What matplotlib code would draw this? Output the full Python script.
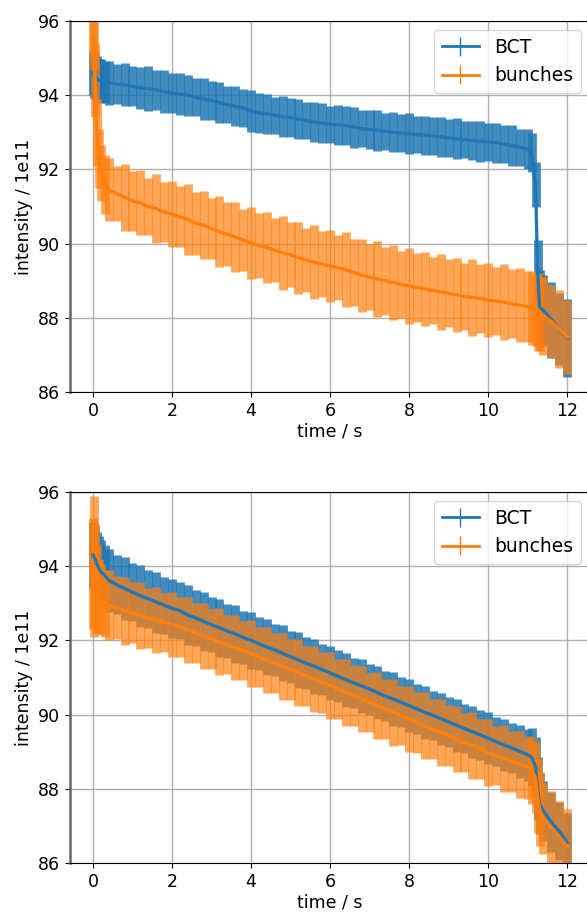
import matplotlib.pyplot as plt

#values (intensity in units of 1e11)
time = [0.0, 0.02, 0.05, 0.1, 0.15, 0.2, 0.3,
        0.4, 0.6, 0.8, 1.0, 1.2, 1.4, 1.6, 1.8, 2.0, 2.2,
        2.4, 2.6, 2.8, 3.0, 3.2, 3.4, 3.6, 3.8, 4.0, 4.2,
        4.4, 4.6, 4.8, 5.0, 5.2, 5.4, 5.6, 5.8, 6.0, 6.2,
        6.4, 6.6, 6.8, 7.0, 7.2, 7.4, 7.6, 7.8, 8.0, 8.2,
        8.4, 8.6, 8.8, 9.0, 9.2, 9.4, 9.6, 9.8, 10.0, 10.2,
        10.4, 10.6, 10.8, 11.0,
        11.1, 11.2, 11.25, 11.3, 11.4, 11.6, 11.8, 12.0]

#top panel
bct_top = [94.6, 94.55, 94.5, 94.45, 94.4, 94.38, 94.35,
           94.33, 94.3, 94.28, 94.24, 94.2, 94.18, 94.14, 94.1, 94.06, 94.03,
           94.0, 93.95, 93.9, 93.86, 93.8, 93.75, 93.7, 93.66, 93.58, 93.52,
           93.5, 93.46, 93.42, 93.4, 93.35, 93.32, 93.28, 93.25, 93.22, 93.2,
           93.18, 93.14, 93.1, 93.08, 93.05, 93.02, 93.0, 92.98, 92.96, 92.94,
           92.92, 92.9, 92.88, 92.85, 92.83, 92.8, 92.78, 92.76, 92.74, 92.72,
           92.68, 92.64, 92.6, 92.55,
           92.45, 91.6, 89.3, 88.3, 88.2, 87.95, 87.7, 87.45]
bct_top_err = [0.6, 0.62, 0.6, 0.62, 0.58, 0.6, 0.57,
               0.6, 0.55, 0.58, 0.54, 0.57, 0.6, 0.55, 0.58, 0.55, 0.57,
               0.55, 0.52, 0.56, 0.53, 0.55, 0.5, 0.54, 0.52, 0.56, 0.53,
               0.54, 0.5, 0.55, 0.52, 0.54, 0.5, 0.53, 0.55, 0.5, 0.53,
               0.52, 0.55, 0.5, 0.53, 0.55, 0.51, 0.54, 0.52, 0.55, 0.51,
               0.53, 0.5, 0.54, 0.52, 0.55, 0.5, 0.53, 0.55, 0.51, 0.54,
               0.52, 0.55, 0.5, 0.53,
               0.52, 0.6, 0.8, 1.0, 0.95, 1.02, 0.98, 1.05]
bunch_top = [95.6, 95.5, 94.4, 93.0, 92.3, 91.9, 91.6,
             91.45, 91.35, 91.25, 91.15, 91.1, 91.0, 90.95, 90.85, 90.8, 90.72,
             90.65, 90.55, 90.5, 90.4, 90.32, 90.25, 90.18, 90.1, 90.02, 89.95,
             89.9, 89.82, 89.75, 89.7, 89.62, 89.55, 89.5, 89.45, 89.4, 89.35,
             89.3, 89.22, 89.15, 89.1, 89.05, 89.0, 88.95, 88.9, 88.86, 88.82,
             88.78, 88.74, 88.7, 88.66, 88.62, 88.58, 88.55, 88.52, 88.48, 88.45,
             88.42, 88.38, 88.34, 88.3,
             88.26, 88.2, 88.15, 88.1, 88.05, 87.9, 87.7, 87.48]
bunch_top_err = [0.6, 0.8, 1.0, 0.9, 0.8, 0.75, 0.8,
                 0.85, 0.75, 0.9, 0.8, 0.88, 0.78, 0.92, 0.8, 0.9, 0.82,
                 0.95, 0.85, 0.92, 0.82, 0.96, 0.86, 0.94, 0.84, 0.98, 0.88,
                 0.95, 0.86, 1.0, 0.88, 0.97, 0.86, 1.0, 0.9, 0.98, 0.88,
                 1.02, 0.9, 0.98, 0.88, 1.02, 0.92, 1.0, 0.9, 1.03, 0.92,
                 1.0, 0.9, 1.02, 0.92, 1.0, 0.9, 1.03, 0.93, 1.0, 0.92,
                 1.02, 0.93, 1.0, 0.95,
                 1.0, 0.95, 1.05, 1.0, 1.05, 0.98, 1.05, 1.0]

#bottom panel
bct_bottom = [94.3, 94.25, 94.2, 94.05, 93.95, 93.85, 93.75,
              93.62, 93.5, 93.4, 93.3, 93.2, 93.12, 93.03, 92.95, 92.86, 92.8,
              92.68, 92.6, 92.51, 92.42, 92.34, 92.25, 92.17, 92.08, 92.0, 91.91,
              91.82, 91.74, 91.65, 91.56, 91.47, 91.38, 91.3, 91.21, 91.12, 91.03,
              90.94, 90.85, 90.77, 90.68, 90.59, 90.5, 90.42, 90.33, 90.24, 90.15,
              90.06, 89.98, 89.89, 89.8, 89.71, 89.62, 89.54, 89.45, 89.36, 89.27,
              89.18, 89.1, 89.01, 88.92,
              88.85, 88.6, 88.0, 87.6, 87.4, 87.1, 86.85, 86.55]
bct_bottom_err = [0.9, 0.9, 0.88, 0.87, 0.85, 0.86, 0.83,
                  0.85, 0.8, 0.84, 0.79, 0.83, 0.78, 0.82, 0.77, 0.8, 0.76,
                  0.8, 0.75, 0.79, 0.74, 0.78, 0.73, 0.77, 0.72, 0.76, 0.72,
                  0.76, 0.71, 0.75, 0.7, 0.75, 0.7, 0.74, 0.69, 0.74, 0.7,
                  0.73, 0.68, 0.73, 0.69, 0.72, 0.68, 0.72, 0.67, 0.71, 0.68,
                  0.71, 0.66, 0.7, 0.67, 0.71, 0.66, 0.7, 0.67, 0.7, 0.66,
                  0.7, 0.67, 0.72, 0.7,
                  0.78, 0.8, 0.85, 0.82, 0.8, 0.8, 0.78, 0.8]
bunch_bottom = [93.8, 94.0, 93.7, 93.4, 93.2, 93.1, 93.0,
                92.95, 92.88, 92.8, 92.74, 92.68, 92.6, 92.55, 92.48, 92.42, 92.36,
                92.28, 92.2, 92.12, 92.04, 91.96, 91.88, 91.8, 91.72, 91.64, 91.55,
                91.47, 91.39, 91.3, 91.22, 91.13, 91.04, 90.96, 90.87, 90.78, 90.69,
                90.6, 90.51, 90.42, 90.33, 90.24, 90.15, 90.06, 89.97, 89.88, 89.79,
                89.7, 89.61, 89.52, 89.43, 89.34, 89.25, 89.16, 89.07, 88.98, 88.9,
                88.82, 88.74, 88.66, 88.58,
                88.5, 88.3, 87.8, 87.45, 87.2, 86.95, 86.7, 86.45]
bunch_bottom_err = [1.5, 1.9, 1.4, 1.2, 1.0, 0.95, 0.9,
                    0.95, 0.85, 0.92, 0.82, 0.9, 0.8, 0.9, 0.8, 0.88, 0.8,
                    0.9, 0.8, 0.88, 0.8, 0.9, 0.8, 0.88, 0.8, 0.9, 0.82,
                    0.9, 0.8, 0.9, 0.82, 0.9, 0.8, 0.88, 0.82, 0.9, 0.8,
                    0.9, 0.82, 0.9, 0.8, 0.9, 0.82, 0.9, 0.8, 0.88, 0.82,
                    0.9, 0.8, 0.9, 0.82, 0.9, 0.8, 0.9, 0.82, 0.9, 0.8,
                    0.9, 0.82, 0.9, 0.85,
                    0.9, 0.95, 1.0, 1.0, 0.95, 1.0, 0.98, 1.0]

panels = [(bct_top, bct_top_err, bunch_top, bunch_top_err),
          (bct_bottom, bct_bottom_err, bunch_bottom, bunch_bottom_err)]

plt.rcParams['font.size'] = 12.5

fig = plt.figure(figsize=(5.87, 9.13), dpi=100)
#axes stick out a bit on the right, like the cropped original
ax_top = fig.add_axes([0.1193, 0.5706, 0.886, 0.4064])
ax_bottom = fig.add_axes([0.1193, 0.0548, 0.886, 0.4064])

for ax, (bct, bct_err, bunch, bunch_err) in zip([ax_top, ax_bottom], panels):
    #wide see-through error bars so neighbouring ones just overlap into a band
    ax.errorbar(time, bct, yerr=bct_err, fmt='-', color='#1f77b4', lw=2.4,
                ecolor=(0.122, 0.467, 0.706, 0.85), elinewidth=6.3)
    ax.errorbar(time, bunch, yerr=bunch_err, fmt='-', color='#ff7f0e', lw=2.4,
                ecolor=(1.0, 0.498, 0.055, 0.7), elinewidth=6.3)
    #thin proxies only for the legend
    h1 = ax.errorbar([float('nan')], [float('nan')], yerr=[0.5], fmt='-',
                     color='#1f77b4', lw=2, elinewidth=1, label='BCT')
    h2 = ax.errorbar([float('nan')], [float('nan')], yerr=[0.5], fmt='-',
                     color='#ff7f0e', lw=2, elinewidth=1, label='bunches')
    ax.set_xlim(-0.58, 12.58)
    ax.set_ylim(86, 96)
    ax.set_xticks([0, 2, 4, 6, 8, 10, 12])
    ax.set_yticks([86, 88, 90, 92, 94, 96])
    ax.grid(True, color='#b0b0b0', lw=1)
    ax.set_axisbelow(True)
    ax.spines['left'].set_color('#666666')
    ax.spines['left'].set_linewidth(1.8)
    ax.set_xlabel('time / s', labelpad=2)
    ax.set_ylabel('intensity / 1e11')
    ax.legend(handles=[h1, h2], loc='upper right', fontsize=13.5)

fig.savefig('out.png', dpi=100)
